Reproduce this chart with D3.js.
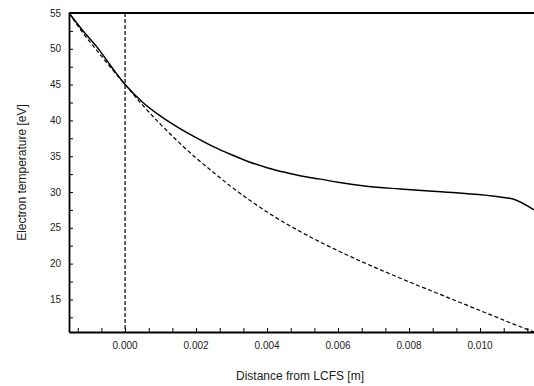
<!DOCTYPE html>
<html>
<head>
<meta charset="utf-8">
<script src="https://cdn.jsdelivr.net/npm/d3@7"></script>
<style>
  body { margin: 0; background: #fff; }
  text { font-family: "Liberation Sans", Arial, sans-serif; fill: #222; }
</style>
</head>
<body>
<svg width="534" height="386"></svg>
<script>
// data
var distance = [-0.00158, -0.0012, -0.0008, -0.0004, 0.0, 0.0005, 0.001, 0.0015, 0.002, 0.0025, 0.003, 0.0035, 0.004, 0.0045, 0.005, 0.0055, 0.006, 0.0068, 0.00775, 0.009, 0.0104, 0.01093, 0.01152];
var teSolid = [55.0, 52.6, 50.3, 47.6, 45.0, 42.5, 40.6, 39.0, 37.6, 36.3, 35.2, 34.2, 33.4, 32.75, 32.2, 31.8, 31.35, 30.8, 30.42, 30.0, 29.4, 29.02, 27.5];

var distanceDash = [-0.00158, -0.0012, -0.0008, -0.0004, 0.0, 0.0005, 0.001, 0.0015, 0.002, 0.0025, 0.003, 0.0035, 0.004, 0.0045, 0.005, 0.0055, 0.006, 0.0065, 0.007, 0.0075, 0.008, 0.0085, 0.009, 0.0095, 0.010, 0.0105, 0.011, 0.01152];
var teDash = [55.0, 52.3, 49.8, 47.35, 45.0, 42.1, 39.45, 37.0, 34.75, 32.7, 30.7, 28.9, 27.2, 25.7, 24.3, 23.0, 21.8, 20.65, 19.55, 18.5, 17.45, 16.45, 15.45, 14.45, 13.45, 12.45, 11.45, 10.45];

var xTickLabels = [0.000, 0.002, 0.004, 0.006, 0.008, 0.010];
var yTickLabels = [15, 20, 25, 30, 35, 40, 45, 50, 55];
var markerX = 0.0;

var svg = d3.select("svg");

var plotLeft = 69, plotTop = 13, plotRight = 534, plotBottom = 332;

var x = d3.scaleLinear()
    .domain([-0.00158, 0.01152])
    .range([plotLeft, plotRight]);
var y = d3.scaleLinear()
    .domain([10.45, 55])
    .range([plotBottom, plotTop]);

// minor ticks every 1/3 of a label step on x
var xMinor = d3.range(-2, 18).map(function(i) { return i * 0.002 / 3; })
    .filter(function(v) { return v > x.domain()[0] && v < x.domain()[1]; });
var yMinor = d3.range(10, 56, 2.5).filter(function(v) { return v > y.domain()[0] && v < 55; });

// X AXIS
var xAxis = d3.axisBottom(x)
    .tickValues(xMinor)
    .tickSizeInner(-4)
    .tickSizeOuter(0)
    .tickFormat("");
svg.append("g")
    .attr("transform", "translate(0," + plotBottom + ")")
    .call(xAxis)
    .call(function(g) { g.select(".domain").attr("stroke-width", 1.8); });

svg.append("g")
    .selectAll("text")
    .data(xTickLabels)
    .enter()
    .append("text")
    .attr("x", function(d) { return x(d); })
    .attr("y", plotBottom + 17)
    .attr("text-anchor", "middle")
    .style("font-size", "10px")
    .text(function(d) { return d3.format(".3f")(d); });

// Y AXIS
var yAxis = d3.axisLeft(y)
    .tickValues(yMinor)
    .tickSizeInner(-4)
    .tickSizeOuter(0)
    .tickFormat("");
svg.append("g")
    .attr("transform", "translate(" + plotLeft + ",0)")
    .call(yAxis)
    .call(function(g) { g.select(".domain").attr("stroke-width", 1.8); });

svg.append("g")
    .selectAll("text")
    .data(yTickLabels)
    .enter()
    .append("text")
    .attr("x", plotLeft - 8)
    .attr("y", function(d) { return y(d); })
    .attr("dy", "0.35em")
    .attr("text-anchor", "end")
    .style("font-size", "10px")
    .text(function(d) { return d; });

// top border
svg.append("line")
    .attr("x1", plotLeft).attr("x2", plotRight)
    .attr("y1", y(55)).attr("y2", y(55))
    .attr("stroke", "#000")
    .attr("stroke-width", 1.8);

// LCFS marker
svg.append("line")
    .attr("x1", x(markerX)).attr("x2", x(markerX))
    .attr("y1", y(55)).attr("y2", plotBottom)
    .attr("stroke", "#000")
    .attr("stroke-width", 1.2)
    .style("stroke-dasharray", "4, 2");

// CURVES
var line = d3.line()
    .x(function(d) { return x(d[0]); })
    .y(function(d) { return y(d[1]); })
    .curve(d3.curveMonotoneX);

svg.append("path")
    .attr("fill", "none")
    .attr("stroke", "#000")
    .attr("stroke-width", 1.2)
    .style("stroke-dasharray", "4, 2.5")
    .attr("d", line(d3.zip(distanceDash, teDash)));

svg.append("path")
    .attr("fill", "none")
    .attr("stroke", "#000")
    .attr("stroke-width", 1.5)
    .attr("d", line(d3.zip(distance, teSolid)));

// LABELS
svg.append("text")
    .attr("x", 300)
    .attr("y", 380)
    .attr("text-anchor", "middle")
    .style("font-size", "12px")
    .text("Distance from LCFS [m]");

svg.append("text")
    .attr("transform", "translate(26," + ((plotTop + plotBottom) / 2) + ") rotate(-90)")
    .attr("text-anchor", "middle")
    .style("font-size", "12px")
    .text("Electron temperature [eV]");
</script>
</body>
</html>
